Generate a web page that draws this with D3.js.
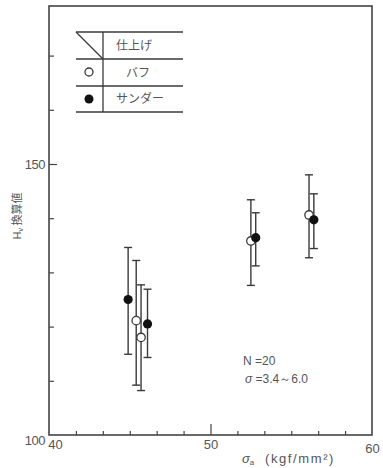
<!DOCTYPE html>
<html><head><meta charset="utf-8">
<script src="https://cdn.jsdelivr.net/npm/d3@7"></script>
<style>body{margin:0;background:#fff}svg{display:block}text{font-family:"Liberation Sans",Arial,sans-serif;fill:#555}</style>
</head><body><svg id="c" width="383" height="468"></svg>
<script>
// Data
const finishes = ["バフ", "サンダー"];
const buffX = [45.4, 45.7, 52.5, 56.1];
const buffY = [121.1, 118.0, 135.8, 140.6];
const buffHi = [132.2, 127.7, 143.4, 148.0];
const buffLo = [109.2, 108.2, 127.6, 132.7];
const sandX = [44.9, 46.1, 52.8, 56.4];
const sandY = [125.0, 120.5, 136.4, 139.7];
const sandHi = [134.6, 126.9, 141.0, 144.5];
const sandLo = [114.9, 114.3, 131.2, 134.4];
const xTicks = [40, 50, 60];
const xMinorTicks = [41.667, 43.333, 45, 46.667, 48.333, 51.667, 53.333, 55, 56.667, 58.333];
const yTickLabels = [100, 150];
const yMinorTicks = [110, 120, 130, 140, 160, 170];
const note = ["N =20", "σ =3.4～6.0"];

const svg = d3.select("#c");
const x = d3.scaleLinear().domain([40, 60]).range([49, 372]);
const y = d3.scaleLinear().domain([100, 150]).range([435, 164]);
const frameTop = 6;
const ink = "#3a3a3a";
const jp = "'Noto Sans CJK JP'";

// frame
svg.append("rect").attr("x", x(40)).attr("y", frameTop).attr("width", x(60) - x(40)).attr("height", y(100) - frameTop)
  .attr("fill", "none").attr("stroke", "#444").attr("stroke-width", 1.6);

// Y axis
const gy = svg.append("g").attr("transform", `translate(${x(40)},0)`)
  .call(d3.axisLeft(y).tickValues(yTickLabels.concat(yMinorTicks)).tickSizeInner(-5).tickSizeOuter(0).tickPadding(4)
    .tickFormat(d => yTickLabels.includes(d) ? d : ""));
gy.select(".domain").remove();
gy.selectAll(".tick line").attr("stroke", "#444").attr("stroke-width", 1.2).filter(d => d === 150).attr("x2", 8);
gy.selectAll(".tick").filter(d => d === 100).select("line").remove();
gy.selectAll(".tick text").style("font-size", "13px").attr("fill", "#555").style("letter-spacing", "-0.5px");
gy.selectAll(".tick").filter(d => d === 100).select("text").attr("dy", "0.7em");

// X axis
const gx = svg.append("g").attr("transform", `translate(0,${y(100)})`)
  .call(d3.axisBottom(x).tickValues(xTicks.concat(xMinorTicks)).tickSizeInner(-4).tickSizeOuter(0).tickPadding(5)
    .tickFormat(d => xTicks.includes(d) ? d : ""));
gx.select(".domain").remove();
gx.selectAll(".tick line").attr("stroke", "#444").attr("stroke-width", 1.2).filter(d => d === 50).attr("y2", -11);
gx.selectAll(".tick").filter(d => d === 40 || d === 60).select("line").remove();
gx.selectAll(".tick text").style("font-size", "13px").attr("fill", "#555");
gx.selectAll(".tick").filter(d => d === 40).select("text").attr("dx", 6);
gx.selectAll(".tick").filter(d => d === 60).select("text").attr("dy", "1em");

// axis titles
const xt = svg.append("text").attr("x", 242).attr("y", 463).style("font-size", "13px");
xt.append("tspan").text("σ").style("font-style", "italic");
xt.append("tspan").text("a").attr("dy", 2).style("font-size", "8px");
xt.append("tspan").text("(kgf/mm²)").attr("dy", -2).attr("x", 265).style("letter-spacing", "1.6px");

const yt = svg.append("text").attr("transform", "translate(21,216) rotate(-90)").attr("text-anchor", "middle")
  .style("font-size", "11px");
yt.append("tspan").text("H");
yt.append("tspan").text("v").attr("dy", 2).style("font-size", "7px");
yt.append("tspan").text(" 換算値").attr("dy", -2).style("font-family", jp);

// legend table
const lg = svg.append("g").attr("stroke", ink).attr("stroke-width", 1.3);
[32, 59, 86, 112].forEach(v => lg.append("line").attr("x1", 76).attr("x2", 183).attr("y1", v).attr("y2", v));
lg.append("line").attr("x1", 103).attr("x2", 103).attr("y1", 32).attr("y2", 112);
lg.append("line").attr("x1", 76).attr("x2", 103).attr("y1", 32).attr("y2", 59);
const lt = (tx, ty, s) => svg.append("text").attr("x", tx).attr("y", ty).attr("text-anchor", "middle")
  .style("font-size", "12px").style("font-family", jp).text(s);
lt(134, 50, "仕上げ");
lt(138, 77, finishes[0]);
lt(140, 103, finishes[1]);
svg.append("circle").attr("cx", 89).attr("cy", 72).attr("r", 4).attr("fill", "#fff").attr("stroke", ink).attr("stroke-width", 1.3);
svg.append("circle").attr("cx", 89).attr("cy", 99).attr("r", 4.5).attr("fill", "#111");

// series
function drawSeries(xs, ys, his, los) {
  const g = svg.append("g");
  const data = xs.map((d, i) => ({ x: d, y: ys[i], hi: his[i], lo: los[i] }));
  g.selectAll(".eb").data(data).join("line").attr("class", "eb").attr("x1", d => x(d.x)).attr("x2", d => x(d.x))
    .attr("y1", d => y(d.hi)).attr("y2", d => y(d.lo)).attr("stroke", ink).attr("stroke-width", 1.4);
  ["hi", "lo"].forEach(k => g.selectAll(".c" + k).data(data).join("line").attr("class", "c" + k)
    .attr("x1", d => x(d.x) - 4).attr("x2", d => x(d.x) + 4)
    .attr("y1", d => y(d[k])).attr("y2", d => y(d[k])).attr("stroke", ink).attr("stroke-width", 1.4));
  return { g, data };
}
const b = drawSeries(buffX, buffY, buffHi, buffLo);
const s = drawSeries(sandX, sandY, sandHi, sandLo);
b.g.selectAll("circle").data(b.data).join("circle").attr("cx", d => x(d.x)).attr("cy", d => y(d.y)).attr("r", 4.2)
  .attr("fill", "#fff").attr("stroke", ink).attr("stroke-width", 1.3);
s.g.selectAll("circle").data(s.data).join("circle").attr("cx", d => x(d.x)).attr("cy", d => y(d.y)).attr("r", 4.6)
  .attr("fill", "#111");

// note
svg.append("text").attr("x", 243).attr("y", 365).style("font-size", "12px").text(note[0]);
const n2 = svg.append("text").attr("x", 245).attr("y", 383).style("font-size", "12px");
n2.append("tspan").text("σ").style("font-style", "italic");
n2.append("tspan").text(note[1].slice(1));
</script></body></html>
